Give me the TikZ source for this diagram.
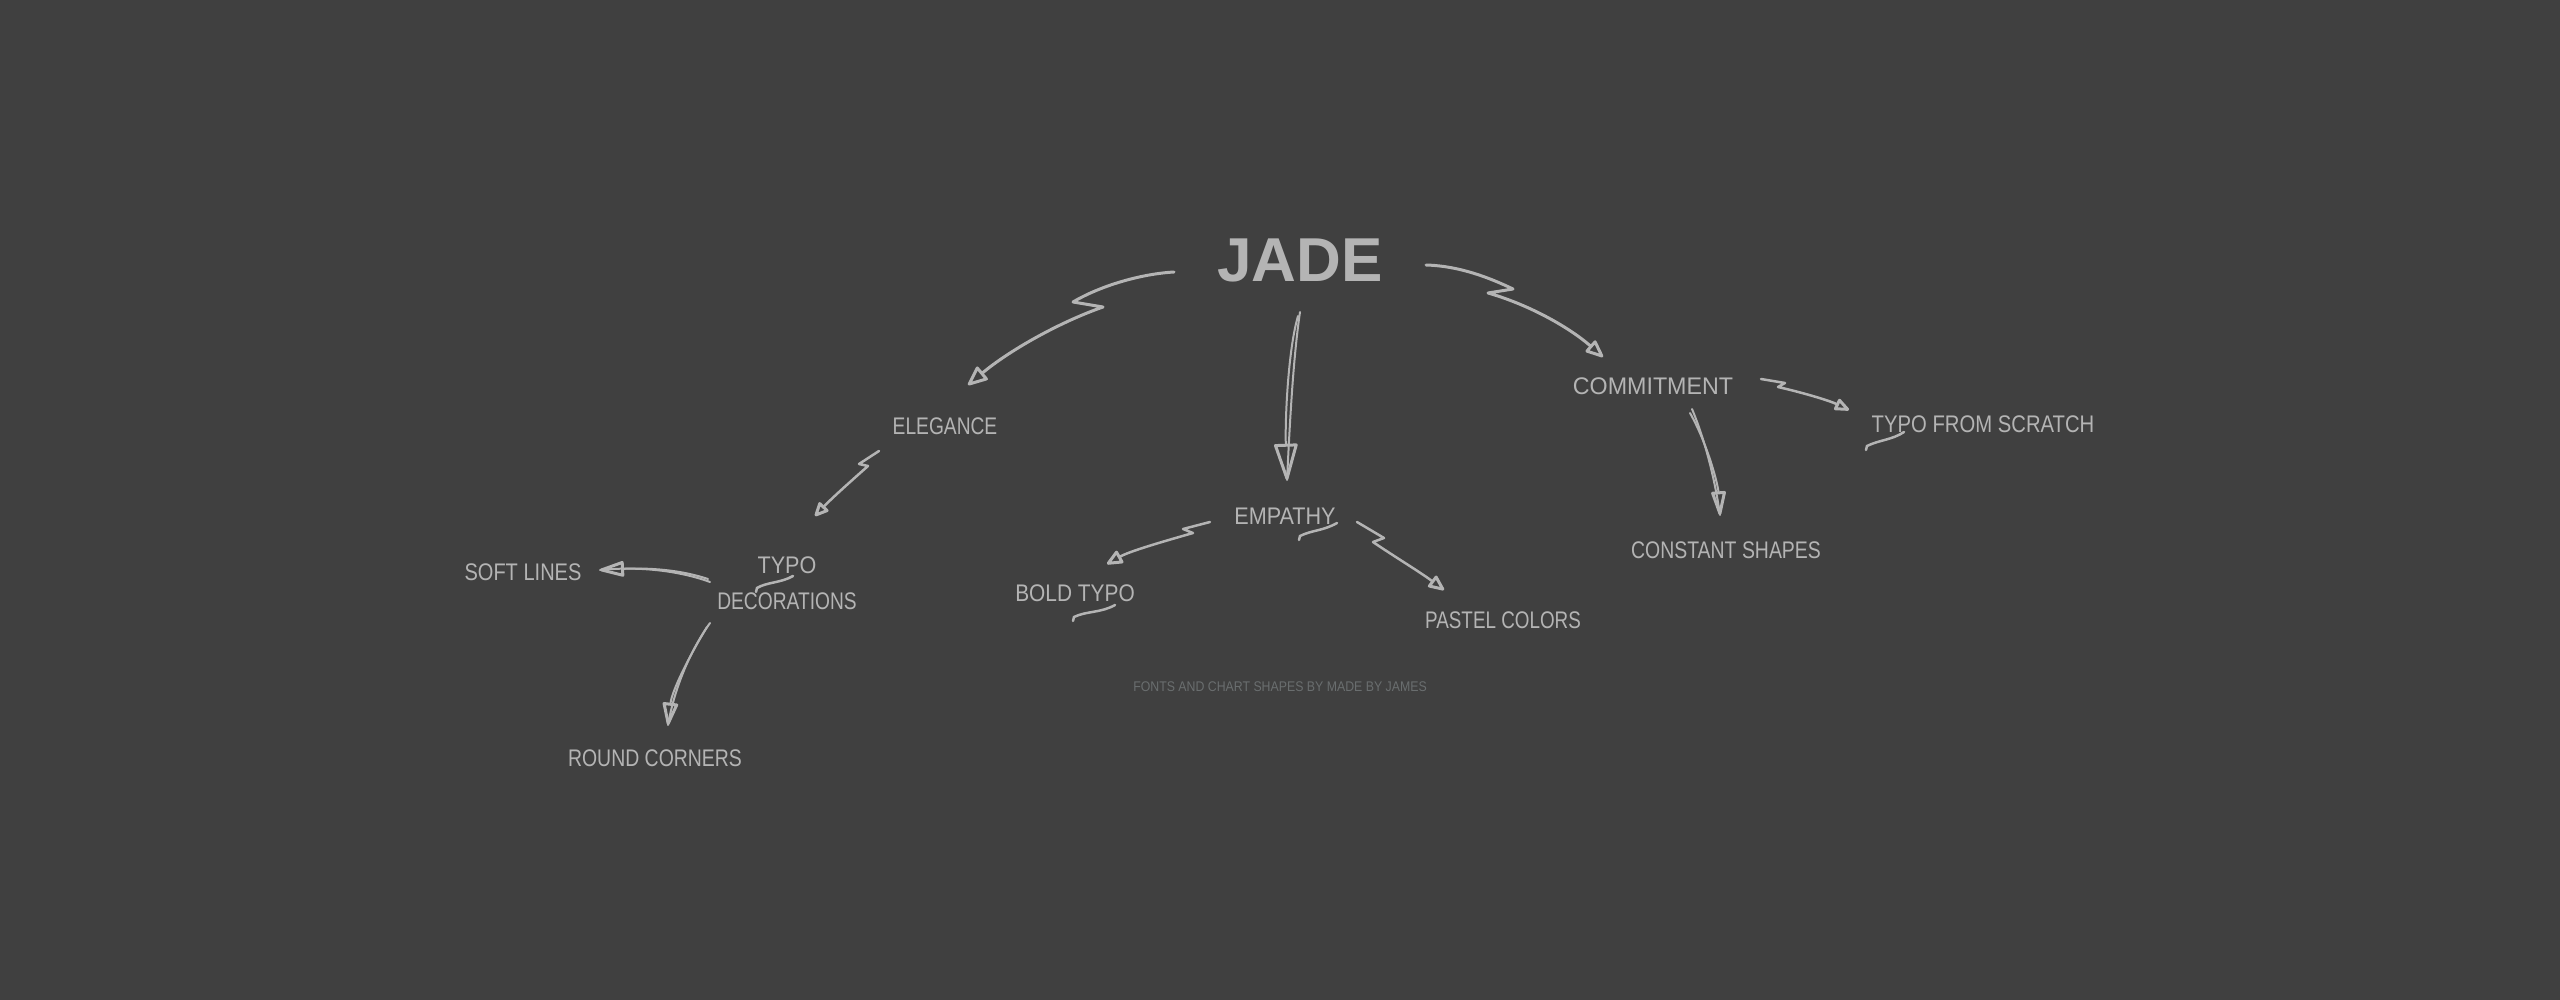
\documentclass[tikz,border=0pt]{standalone}
\usepackage{fontspec}
\usepackage{graphicx}
\setmainfont{Liberation Sans}
\usetikzlibrary{arrows.meta,calc}
\definecolor{bg}{HTML}{404040}
\definecolor{ink}{HTML}{B4B4B4}
\definecolor{foot}{HTML}{6A6E6F}
\begin{document}
\begin{tikzpicture}[x=1pt,y=-1pt,
  lbl/.style={text=ink, font=\fontsize{24}{28}\selectfont, inner sep=0pt},
  title/.style={text=ink, font=\bfseries\fontsize{62}{70}\selectfont, inner sep=0pt},
  credit/.style={text=foot, font=\fontsize{14}{16}\selectfont, inner sep=0pt},
  conn/.style={draw=ink, line width=3pt, line cap=round, line join=round},
  thin/.style={draw=ink, line width=2.5pt, line cap=round, line join=round},
  sketch/.style={draw=ink, line width=2pt, line cap=round, line join=round},
  swash/.style={draw=ink, line width=2.5pt, line cap=round},
  tipo/.style 2 args={-{Triangle[open,length=#1,width=#2,line width=3pt,round]}}]
\fill[bg] (0,0) rectangle (2560,1000);
\useasboundingbox (0,0) rectangle (2560,1000);

% nodes
\node[title] (jade) at (1300,260) {JADE};
\node[lbl] (elegance) at (945,426) {\scalebox{0.80}[1]{ELEGANCE}};
\node[lbl] (commit) at (1653,386) {\scalebox{0.97}[1]{COMMITMENT}};
\node[lbl] (scratch) at (1983,424) {\scalebox{0.845}[1]{TYPO FROM SCRATCH}};
\node[lbl] (constant) at (1726,550) {\scalebox{0.81}[1]{CONSTANT SHAPES}};
\node[lbl] (soft) at (523,572) {\scalebox{0.835}[1]{SOFT LINES}};
\node[lbl, align=center, font=\fontsize{24}{36}\selectfont] (typodec) at (787,583)
  {\scalebox{0.9}[1]{TYPO}\\\scalebox{0.8}[1]{DECORATIONS}};
\node[lbl] (round) at (655,758) {\scalebox{0.81}[1]{ROUND CORNERS}};
\node[lbl] (empathy) at (1285,516) {\scalebox{0.9}[1]{EMPATHY}};
\node[lbl] (bold) at (1075,593) {\scalebox{0.87}[1]{BOLD TYPO}};
\node[lbl] (pastel) at (1503,620) {\scalebox{0.785}[1]{PASTEL COLORS}};
\node[credit] (credits) at (1280,687) {\scalebox{0.88}[1]{FONTS AND CHART SHAPES BY MADE BY JAMES}};

% JADE -> ELEGANCE
\draw[conn, tipo={22pt}{18pt}] ($(jade)+(-126,12)$) .. controls (1140,274) and (1100,286) .. (1073,302)
  -- (1103,307) .. controls (1060,322) and (1010,350) .. ($(elegance)+(23,-41)$);
% JADE -> EMPATHY
\draw[sketch] ($(jade)+(0,52)$) .. controls (1293,360) and (1290,420) .. ($(empathy)+(2,-36)$);
\draw[sketch, tipo={40pt}{24pt}] ($(jade)+(-2,56)$) .. controls (1288,350) and (1285,420) .. ($(empathy)+(2,-36)$);
% JADE -> COMMITMENT
\draw[conn, tipo={20pt}{16pt}] ($(jade)+(126,5)$) .. controls (1460,266) and (1490,278) .. (1513,289)
  -- (1488,293) .. controls (1530,305) and (1570,328) .. ($(commit)+(-50,-29)$);
% ELEGANCE -> TYPO DECORATIONS
\draw[thin, tipo={16pt}{14pt}] ($(elegance)+(-66,25)$) -- (859,464) -- (868,466)
  .. controls (850,482) and (832,498) .. ($(typodec)+(28,-67)$);
% TYPO DECORATIONS -> SOFT LINES
\draw[sketch] ($(typodec)+(-77,-1)$) .. controls (680,571) and (640,566) .. ($(soft)+(77,-2)$);
\draw[sketch, tipo={28pt}{16pt}] ($(typodec)+(-79,-4)$) .. controls (675,568) and (640,568) .. ($(soft)+(77,-2)$);
% TYPO DECORATIONS -> ROUND CORNERS
\draw[sketch] ($(typodec)+(-77,40)$) .. controls (692,648) and (675,685) .. ($(round)+(13,-33)$);
\draw[sketch, tipo={26pt}{16pt}] ($(typodec)+(-80,44)$) .. controls (690,655) and (672,690) .. ($(round)+(13,-33)$);
% EMPATHY -> BOLD TYPO
\draw[thin, tipo={18pt}{15pt}] ($(empathy)+(-75,6)$) -- (1183,529) -- (1193,533)
  .. controls (1165,541) and (1130,551) .. ($(bold)+(32,-29)$);
% EMPATHY -> PASTEL COLORS
\draw[thin, tipo={18pt}{15pt}] ($(empathy)+(72,6)$) -- (1384,538) -- (1373,542)
  .. controls (1395,557) and (1420,572) .. ($(pastel)+(-59,-30)$);
% COMMITMENT -> TYPO FROM SCRATCH
\draw[thin, tipo={17pt}{13pt}] ($(commit)+(108,-7)$) -- (1785,383) -- (1778,387)
  .. controls (1800,392) and (1828,400) .. ($(scratch)+(-134,-14)$);
% COMMITMENT -> CONSTANT SHAPES
\draw[sketch] ($(commit)+(39,23)$) .. controls (1705,440) and (1715,480) .. ($(constant)+(-6,-35)$);
\draw[sketch, tipo={28pt}{15pt}] ($(commit)+(37,27)$) .. controls (1708,445) and (1718,485) .. ($(constant)+(-6,-35)$);

% swashes under the letter Y
\draw[swash] ($(typodec)+(6,-7)$) .. controls +(-12,7) and +(10,-6) .. ($(typodec)+(-30,5)$) -- ++(-1,4);
\draw[swash] ($(bold)+(40,12)$) .. controls +(-14,8) and +(12,-6) .. ($(bold)+(-1,24)$) -- ++(-1,4);
\draw[swash] ($(empathy)+(52,7)$) .. controls +(-14,8) and +(12,-6) .. ($(empathy)+(15,20)$) -- ++(-1,4);
\draw[swash] ($(scratch)+(-79,8)$) .. controls +(-12,8) and +(12,-6) .. ($(scratch)+(-116,22)$) -- ++(-1,4);
\end{tikzpicture}
\end{document}
